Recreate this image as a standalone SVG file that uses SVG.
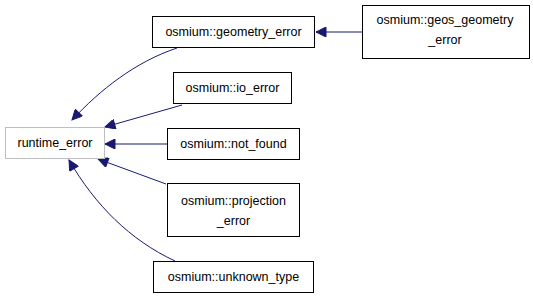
<svg xmlns="http://www.w3.org/2000/svg" width="533" height="299" viewBox="0 0 533 299">
<style>
  .node rect { fill: #ffffff; stroke: #000000; stroke-width: 1; }
  .node.base rect { stroke: #bfbfbf; }
  .node text { font-family: "Liberation Sans", Arial, sans-serif; font-size: 12.5px; fill: #000000; text-anchor: middle; }
  .edges path { fill: none; stroke: #191970; stroke-width: 1; }
</style>
<defs>
  <marker id="arrow" viewBox="0 0 10 10" refX="10" refY="5" markerWidth="13" markerHeight="10" markerUnits="userSpaceOnUse" orient="auto">
    <path d="M0,0 L10,5 L0,10 Z" fill="#191970" stroke="#191970"/>
  </marker>
</defs>
<rect width="533" height="299" fill="#ffffff"/>
<g class="edges">
  <path d="M362,32 L316,32" marker-end="url(#arrow)"/>
  <path d="M177,48 C135,62 100,90 72,120" marker-end="url(#arrow)"/>
  <path d="M182,105 L105,127" marker-end="url(#arrow)"/>
  <path d="M167,144 L105,144" marker-end="url(#arrow)"/>
  <path d="M166,184 L98,159" marker-end="url(#arrow)"/>
  <path d="M175,261 C130,240 95,205 69,160" marker-end="url(#arrow)"/>
</g>
<g id="runtime_error" class="node base">
  <rect x="5.5" y="127.5" width="99" height="31"/>
  <text x="55" y="147">runtime_error</text>
</g>
<g id="geometry_error" class="node">
  <rect x="152.5" y="16.5" width="162" height="31"/>
  <text x="233.5" y="35.5">osmium::geometry_error</text>
</g>
<g id="geos_geometry_error" class="node">
  <rect x="362.5" y="5.5" width="167" height="53"/>
  <text x="445" y="24">osmium::geos_geometry</text>
  <text x="445" y="44">_error</text>
</g>
<g id="io_error" class="node">
  <rect x="173.5" y="72.5" width="118" height="31"/>
  <text x="232.5" y="91.5">osmium::io_error</text>
</g>
<g id="not_found" class="node">
  <rect x="167.5" y="128.5" width="132" height="31"/>
  <text x="233.5" y="147.5">osmium::not_found</text>
</g>
<g id="projection_error" class="node">
  <rect x="167.5" y="183.5" width="132" height="53"/>
  <text x="233.5" y="205">osmium::projection</text>
  <text x="233.5" y="225">_error</text>
</g>
<g id="unknown_type" class="node">
  <rect x="153.5" y="261.5" width="160" height="31"/>
  <text x="233.5" y="280.5">osmium::unknown_type</text>
</g>
</svg>
